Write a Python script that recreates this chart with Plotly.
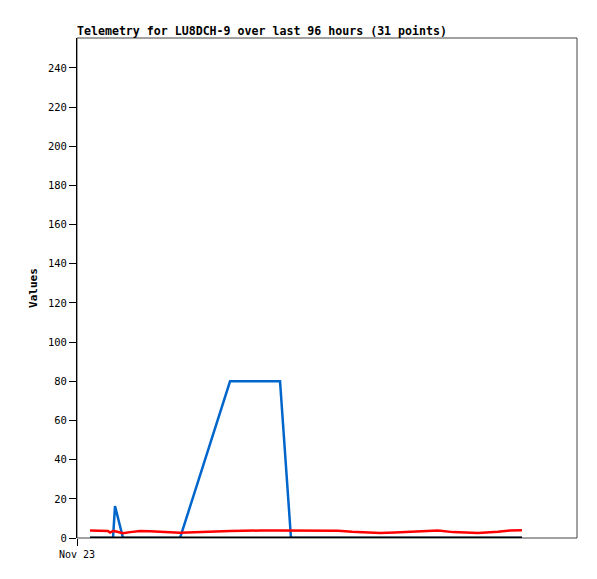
import plotly.graph_objects as go

times = ["2023-11-23 02:30", "2023-11-23 04:25", "2023-11-23 05:57", "2023-11-23 06:20",
         "2023-11-23 06:55", "2023-11-23 07:18", "2023-11-23 08:50", "2023-11-23 10:11",
         "2023-11-23 12:06", "2023-11-23 14:01", "2023-11-23 15:56", "2023-11-23 18:14",
         "2023-11-23 19:47", "2023-11-24 05:23", "2023-11-24 08:15", "2023-11-24 11:08",
         "2023-11-24 14:59", "2023-11-24 17:05", "2023-11-24 20:44", "2023-11-25 02:07",
         "2023-11-25 04:48", "2023-11-25 07:29", "2023-11-25 10:11", "2023-11-25 13:03",
         "2023-11-25 17:51", "2023-11-25 21:19", "2023-11-26 00:12", "2023-11-26 05:00",
         "2023-11-26 08:50", "2023-11-26 11:08", "2023-11-26 13:26"]

blue_vals = [0, 0, 0, 0, 0, 16.3, 0, 0, 0, 0, 0, 0, 0, 80, 80, 80, 80, 0, 0, 0,
             0, 0, 0, 0, 0, 0, 0, 0, 0, 0, 0]
red_vals = [3.8, 3.8, 3.6, 2.8, 3.6, 3.4, 2.4, 3.0, 3.6, 3.5, 3.2, 3.1, 2.7, 3.6, 3.8,
            3.8, 3.8, 3.8, 3.8, 3.7, 3.2, 3.0, 2.6, 2.8, 3.4, 3.8, 3.0, 2.6, 3.2, 3.8, 3.9]
black_vals = [0] * 31

y_ticks = [0, 20, 40, 60, 80, 100, 120, 140, 160, 180, 200, 220, 240]

fig = go.Figure()
fig.add_trace(go.Scatter(x=times, y=blue_vals, mode="lines",
                         line=dict(color="#0066CC", width=2.5), showlegend=False))
fig.add_trace(go.Scatter(x=times, y=red_vals, mode="lines",
                         line=dict(color="#FF0000", width=2.5), showlegend=False))
fig.add_trace(go.Scatter(x=times, y=black_vals, mode="lines",
                         line=dict(color="#000000", width=3), showlegend=False))

mono = "DejaVu Sans Mono"
fig.update_layout(
    width=589, height=571,
    margin=dict(l=69, r=20, t=30, b=41),
    plot_bgcolor="white", paper_bgcolor="white",
    title=dict(text="<b>Telemetry for LU8DCH-9 over last 96 hours (31 points)</b>",
               xref="paper", x=0, xanchor="left", yref="paper", y=1, yanchor="bottom",
               pad=dict(b=3), font=dict(family=mono, size=11.6, color="black")),
    xaxis=dict(type="date", range=["2023-11-23 00:00", "2023-11-27 00:00"],
               tickvals=["2023-11-23 00:00"], ticktext=["Nov 23"],
               showgrid=False, zeroline=False, showline=False,
               ticks="outside", ticklen=7, tickcolor="black",
               tickfont=dict(family=mono, size=10, color="black")),
    yaxis=dict(range=[0, 255.3], tickvals=y_ticks, showgrid=False, zeroline=False,
               showline=True, linecolor="black", linewidth=1,
               ticks="outside", ticklen=7, tickcolor="black",
               tickfont=dict(family=mono, size=10.5, color="black"),
               title=dict(text="<b>Values</b>", font=dict(family=mono, size=11, color="black"),
                          standoff=8)),
    shapes=[dict(type="rect", xref="paper", yref="paper", x0=0, x1=1, y0=0, y1=1,
                 line=dict(color="#444444", width=1), layer="below")],
)

fig.write_html("out.html")
